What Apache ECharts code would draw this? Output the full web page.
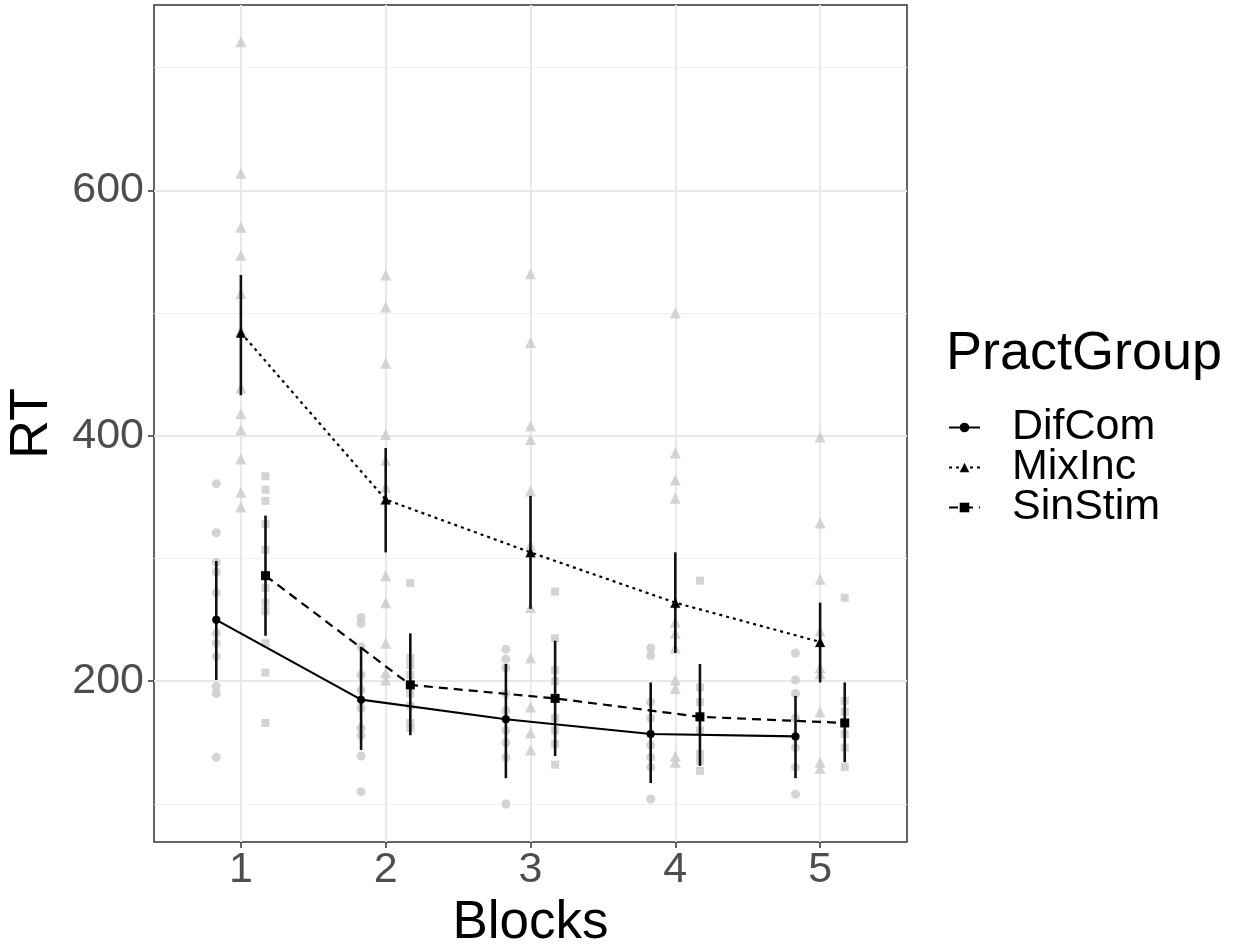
<!DOCTYPE html>
<html>
<head>
<meta charset="utf-8">
<script src="https://cdn.jsdelivr.net/npm/echarts@6/dist/echarts.min.js"></script>
<style>
  html, body { margin: 0; padding: 0; background: #fff; }
  #chart { width: 1234px; height: 945px; }
</style>
</head>
<body>
<div id="chart"></div>
<script>
// data
const blocks = [1, 2, 3, 4, 5];
const groups = ['DifCom', 'MixInc', 'SinStim'];

const difMean = [250, 185, 169, 157, 155];
const difLow = [201, 144, 121, 117, 121];
const difHigh = [298, 228, 214, 199, 188];
const difRaw = [
  [361, 321, 297, 289, 272, 250, 239, 231, 220, 196, 190, 138],
  [252, 247, 228, 205, 193, 178, 162, 156, 139, 110],
  [226, 218, 211, 190, 176, 169, 160, 150, 138, 100],
  [227, 221, 183, 170, 157, 148, 138, 130, 104],
  [223, 201, 190, 170, 155, 146, 130, 108]
];

const mixMean = [484, 348, 305, 264, 232];
const mixLow = [433, 305, 259, 223, 199];
const mixHigh = [531, 390, 351, 305, 264];
const mixRaw = [
  [721, 614, 570, 547, 516, 486, 439, 418, 405, 381, 354, 342],
  [531, 505, 459, 401, 380, 358, 348, 286, 264, 231, 207, 201],
  [532, 476, 408, 397, 355, 311, 305, 260, 219, 179, 158, 144],
  [500, 386, 364, 349, 264, 248, 239, 227, 201, 194, 139, 134],
  [399, 329, 283, 241, 232, 211, 206, 175, 134, 129]
];

const sinMean = [286, 197, 186, 171, 166];
const sinLow = [237, 156, 139, 131, 134];
const sinHigh = [335, 239, 233, 214, 199];
const sinRaw = [
  [367, 356, 347, 328, 307, 286, 276, 264, 257, 231, 207, 166],
  [280, 219, 213, 205, 197, 190, 180, 166, 162],
  [273, 235, 209, 200, 186, 170, 160, 149, 132],
  [282, 195, 183, 170, 160, 141, 135, 127],
  [268, 184, 175, 166, 157, 146, 130]
];

const yTicks = [200, 400, 600];
const yMinor = [100, 300, 500, 700];
const xTicks = [1, 2, 3, 4, 5];

// layout / style
const font = 'Liberation Sans';
const dodge = { DifCom: -0.17, MixInc: 0, SinStim: 0.17 };
const shapes = { DifCom: 'circle', MixInc: 'triangle', SinStim: 'rect' };
const rawSize = { DifCom: 9, MixInc: 11, SinStim: 8 };
const meanSize = { DifCom: 8, MixInc: 10, SinStim: 9 };
const dashes = { DifCom: 'solid', MixInc: [3, 4], SinStim: [9, 6] };

const stats = {
  DifCom: { mean: difMean, low: difLow, high: difHigh, raw: difRaw },
  MixInc: { mean: mixMean, low: mixLow, high: mixHigh, raw: mixRaw },
  SinStim: { mean: sinMean, low: sinLow, high: sinHigh, raw: sinRaw }
};

const series = [];

// grid lines drawn through the axes, kept under everything
series.push({
  type: 'line',
  name: 'grid',
  data: [],
  silent: true,
  z: 0,
  markLine: {
    silent: true,
    z: 0,
    symbol: ['none', 'none'],
    label: { show: false },
    animation: false,
    data: [
      ...yMinor.map(v => ({ yAxis: v, lineStyle: { color: '#f0f0f0', width: 1, type: 'solid' } })),
      ...yTicks.map(v => ({ yAxis: v, lineStyle: { color: '#e8e8e8', width: 2, type: 'solid' } })),
      ...xTicks.map(v => ({ xAxis: v, lineStyle: { color: '#e8e8e8', width: 2, type: 'solid' } }))
    ]
  }
});

groups.forEach(g => {
  const s = stats[g];
  const pts = [];
  blocks.forEach((b, i) => {
    s.raw[i].forEach(v => pts.push([b + dodge[g], v]));
  });
  series.push({
    type: 'scatter',
    name: g + ' raw',
    data: pts,
    symbol: shapes[g],
    symbolSize: rawSize[g],
    itemStyle: { color: '#c9c9c9' },
    silent: true,
    z: 1
  });
});

groups.forEach(g => {
  const s = stats[g];
  series.push({
    type: 'custom',
    name: g + ' se',
    data: blocks.map((b, i) => [b + dodge[g], s.low[i], s.high[i]]),
    encode: { x: 0, y: [1, 2] },
    silent: true,
    z: 3,
    renderItem: (params, api) => {
      const p1 = api.coord([api.value(0), api.value(1)]);
      const p2 = api.coord([api.value(0), api.value(2)]);
      return {
        type: 'line',
        shape: { x1: p1[0], y1: p1[1], x2: p2[0], y2: p2[1] },
        style: { stroke: '#111', lineWidth: 2.6 }
      };
    }
  });
});

groups.forEach(g => {
  const s = stats[g];
  series.push({
    type: 'line',
    name: g,
    data: blocks.map((b, i) => [b + dodge[g], s.mean[i]]),
    symbol: shapes[g],
    symbolSize: meanSize[g],
    showAllSymbol: true,
    lineStyle: { color: '#000', width: 2.2, type: dashes[g] },
    itemStyle: { color: '#000' },
    z: 4
  });
});

const chart = echarts.init(document.getElementById('chart'), null, { renderer: 'canvas' });
chart.setOption({
  animation: false,
  backgroundColor: '#fff',
  title: {
    text: 'PractGroup',
    left: 941,
    top: 322,
    textStyle: { fontFamily: font, fontSize: 54, fontWeight: 'normal', color: '#000' }
  },
  legend: {
    data: groups,
    orient: 'vertical',
    left: 943,
    top: 401,
    itemWidth: 31,
    itemHeight: 12,
    itemGap: -3,
    textStyle: {
      fontFamily: font, fontSize: 43, color: '#000',
      padding: [0, 0, 0, 27]
    }
  },
  grid: {
    left: 154, right: 327, top: 5, bottom: 103,
    show: true, borderColor: '#333', borderWidth: 1.5,
    containLabel: false, outerBoundsMode: 'none'
  },
  xAxis: {
    type: 'value',
    min: 0.4,
    max: 5.6,
    name: 'Blocks',
    nameLocation: 'middle',
    nameGap: 50,
    nameTextStyle: { fontFamily: font, fontSize: 53, color: '#000' },
    axisLine: { show: false },
    splitLine: { show: false },
    axisTick: { show: true, length: 6, customValues: xTicks, lineStyle: { color: '#333', width: 1.5 } },
    axisLabel: { customValues: xTicks, fontFamily: font, fontSize: 43, color: '#4d4d4d', margin: 7 }
  },
  yAxis: {
    type: 'value',
    min: 69,
    max: 751,
    name: 'RT',
    nameLocation: 'middle',
    nameGap: 95,
    nameTextStyle: { fontFamily: font, fontSize: 54, color: '#000' },
    axisLine: { show: false },
    splitLine: { show: false },
    axisTick: { show: true, length: 6, customValues: yTicks, lineStyle: { color: '#333', width: 1.5 } },
    axisLabel: { customValues: yTicks, fontFamily: font, fontSize: 43, color: '#4d4d4d', margin: 10 }
  },
  series: series
});
</script>
</body>
</html>
